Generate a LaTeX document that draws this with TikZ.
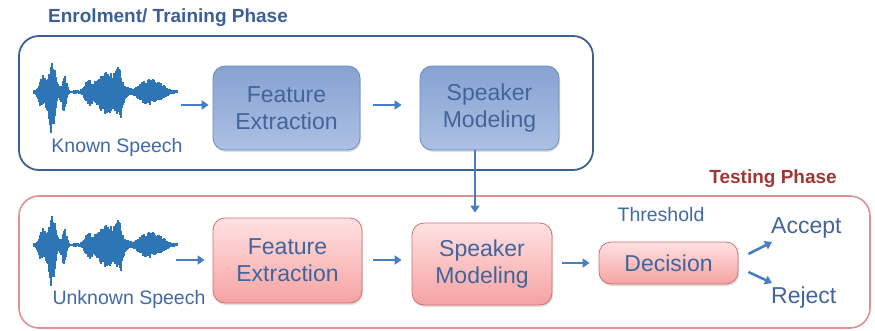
\documentclass[tikz,border=0pt]{standalone}
\usepackage{fontspec}
\setmainfont{Liberation Sans}
\usetikzlibrary{arrows.meta,shadows,calc}
\definecolor{wavecol}{RGB}{46,117,182}
\definecolor{txtblue}{RGB}{66,100,155}
\definecolor{lblblue}{RGB}{65,105,165}
\definecolor{frameblue}{RGB}{60,95,150}
\definecolor{framered}{RGB}{222,145,145}
\definecolor{titlered}{RGB}{160,55,55}
\definecolor{arrowblue}{RGB}{70,125,195}
\definecolor{btop}{RGB}{135,162,210}
\definecolor{bbot}{RGB}{172,192,226}
\definecolor{bborder}{RGB}{105,140,195}
\definecolor{rtop}{RGB}{255,226,226}
\definecolor{rbot}{RGB}{246,162,162}
\definecolor{rborder}{RGB}{212,110,110}
\tikzset{
  bluebox/.style={draw=bborder, line width=0.8pt, rounded corners=12pt, top color=btop, bottom color=bbot,
     drop shadow={shadow xshift=1pt, shadow yshift=-2pt, opacity=0.25},
     text=txtblue, align=center, font=\fontsize{23}{27}\selectfont, inner sep=0pt},
  redbox/.style={draw=rborder, line width=0.8pt, rounded corners=12pt, top color=rtop, bottom color=rbot,
     drop shadow={shadow xshift=1pt, shadow yshift=-2pt, opacity=0.25},
     text=txtblue, align=center, font=\fontsize{23}{27}\selectfont, inner sep=0pt},
  flowarrow/.style={draw=arrowblue, line width=2.6pt, -{Triangle[length=7pt,width=9pt]}},
  lbl/.style={text=lblblue, font=\fontsize{19.5}{22}\selectfont, inner sep=0pt},
  outlbl/.style={text=txtblue, font=\fontsize{23}{26}\selectfont, inner sep=0pt},
  declare function={gs(\x,\m,\s)=exp(-1*(((\x-\m)/\s)^2));}
}
\newcommand{\mywave}[1]{%
  \pgfmathsetseed{7}%
  \foreach \i in {0,...,143}{%
    \pgfmathsetmacro\xx{34+\i}%
    \pgfmathsetmacro\T{(1.5+14*gs(\xx,50,9)+16*gs(\xx,53,3)+15*gs(\xx,65,2.5)+12*gs(\xx,42,2.5)+10*gs(\xx,88,4)+19*gs(\xx,108,15)+14*gs(\xx,118,4)+11*gs(\xx,148,11)+5*gs(\xx,160,9))*(0.5+0.5*sqrt(rnd))}%
    \pgfmathsetmacro\B{(1.5+18*gs(\xx,50,9)+26*gs(\xx,52,3)+18*gs(\xx,64,2.5)+11*gs(\xx,41,2.5)+10*gs(\xx,88,4)+22*gs(\xx,107,14)+18*gs(\xx,120,3.5)+11*gs(\xx,147,10)+5*gs(\xx,160,9))*(0.5+0.5*sqrt(rnd))}%
    \draw[wavecol, line width=1.15pt] (\xx,#1-\T) -- (\xx,#1+\B);
  }%
}
\begin{document}
\begin{tikzpicture}[x=1pt,y=-1pt]
\useasboundingbox (0,0) rectangle (875,330);
% frames
\draw[frameblue, line width=1.8pt, rounded corners=20pt] (19,36) rectangle (593,170);
\draw[framered, line width=1.6pt, rounded corners=20pt] (19,196) rectangle (870,328);
\node[text=frameblue, font=\bfseries\fontsize{19}{22}\selectfont, anchor=west, inner sep=0pt] (ttl1) at (48,18) {Enrolment/ Training Phase};
\node[text=titlered, font=\bfseries\fontsize{19}{22}\selectfont, anchor=east, inner sep=0pt] (ttl2) at (837,179) {Testing Phase};
% waveforms
\mywave{92}
\mywave{245}
\coordinate (wA) at (181,105);
\coordinate (wB) at (176,260);
\node[lbl] (ks) at (117,147) {Known Speech};
\node[lbl] (us) at (129,299) {Unknown Speech};
% training boxes
\node[bluebox, minimum width=147pt, minimum height=84pt] (feA) at (286.5,108) {Feature\\Extraction};
\node[bluebox, minimum width=139pt, minimum height=84pt] (smA) at (489.5,108) {Speaker\\Modeling};
% testing boxes
\node[redbox, minimum width=149pt, minimum height=85pt] (feB) at (287.5,260.5) {Feature\\Extraction};
\node[redbox, minimum width=140pt, minimum height=82pt] (smB) at (482,264) {Speaker\\Modeling};
\node[redbox, minimum width=139pt, minimum height=42pt] (dec) at (668.5,263) {Decision};
\node[lbl] (thr) at (661,215) {Threshold};
\node[outlbl, anchor=west] (acc) at (771,228) {Accept};
\node[outlbl, anchor=west] (rej) at (771,298) {Reject};
% arrows
\coordinate (tx) at (475,0);
\draw[flowarrow, shorten >=4pt] (wA) -- (feA.west |- wA);
\draw[flowarrow, shorten <=13pt, shorten >=18pt] (feA.east |- wA) -- (smA.west |- wA);
\draw[flowarrow, line width=2.2pt, shorten >=10pt] (smA.south -| tx) -- (smB.north -| tx);
\draw[flowarrow, shorten >=8pt] (wB) -- (feB.west |- wB);
\draw[flowarrow, shorten <=11pt, shorten >=10pt] (feB.east |- wB) -- (smB.west |- wB);
\draw[flowarrow, shorten <=10pt, shorten >=9pt] (smB.east |- dec.west) -- (dec.west);
\draw[flowarrow] ($(dec.east)+(10,-9)$) -- ($(acc.west)+(1,14)$);
\draw[flowarrow] ($(dec.east)+(10,9)$) -- ($(rej.west)+(1,-15)$);
\end{tikzpicture}
\end{document}
